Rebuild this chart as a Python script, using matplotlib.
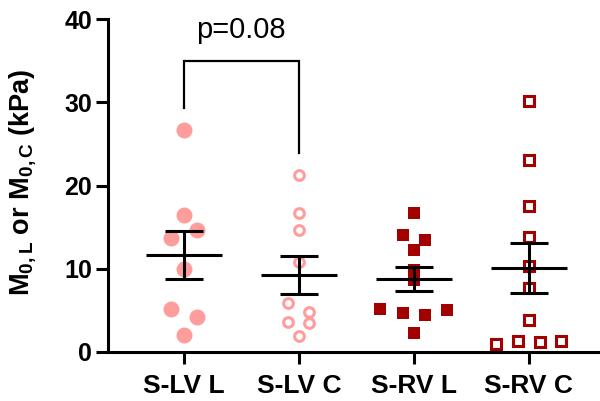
import matplotlib
matplotlib.use('Agg')
import matplotlib.pyplot as plt
import numpy as np

# values (kPa), in data order
groups = ['S-LV L', 'S-LV C', 'S-RV L', 'S-RV C']
slv_l = [26.7, 16.5, 13.7, 14.7, 10.0, 5.2, 4.2, 2.1]
slv_c = [21.3, 16.7, 14.7, 10.8, 5.85, 4.84, 3.57, 3.45, 1.96]
srv_l = [16.7, 14.05, 13.45, 12.2, 9.9, 8.6, 5.17, 4.72, 4.44, 5.05, 2.25]
srv_c = [30.1, 23.1, 17.5, 13.85, 10.3, 7.65, 3.8, 0.96, 1.36, 1.24, 1.36]
yticks = [0, 10, 20, 30, 40]
p_text = 'p=0.08'

data = [slv_l, slv_c, srv_l, srv_c]

pink = '#FF9C9C'
red = '#A30000'
styles = [
    dict(marker='o', ms=11.5, mfc=pink, mec=pink, mew=0),
    dict(marker='o', ms=7.0, mfc='white', mec=pink, mew=2.2),
    dict(marker='s', ms=9.2, mfc=red, mec=red, mew=0),
    dict(marker='s', ms=7.0, mfc='white', mec=red, mew=2.2),
]
steps = [0.226, 0.183, 0.194, 0.19]

plt.rcParams['font.family'] = ['Liberation Sans', 'DejaVu Sans']
plt.rcParams['mathtext.fontset'] = 'custom'
plt.rcParams['mathtext.rm'] = 'Liberation Sans:bold'
plt.rcParams['mathtext.bf'] = 'Liberation Sans:bold'
plt.rcParams['mathtext.it'] = 'Liberation Sans:bold'


def spread(vals, step, gap=1.2):
    # group points that sit close together in value, spread them side by side
    vals = np.asarray(vals)
    order = np.argsort(vals, kind='stable')
    offs = np.zeros(len(vals))
    i = 0
    while i < len(order):
        start = vals[order[i]]
        members = [order[i]]
        j = i + 1
        while j < len(order) and vals[order[j]] - start < gap:
            members.append(order[j])
            j += 1
        members.sort()
        n = len(members)
        for k, m in enumerate(members):
            offs[m] = (k - (n - 1) / 2) * step
        i = j
    return offs


fig = plt.figure(figsize=(6, 4.01), dpi=100)
ax = fig.add_axes([0.18, 0.1222, 0.82, 0.8304])

for i, vals in enumerate(data):
    offs = spread(vals, steps[i])
    ax.plot(i + offs, vals, ls='none', zorder=2, **styles[i])
    m = np.mean(vals)
    sem = np.std(vals, ddof=1) / np.sqrt(len(vals))
    ax.plot([i - 0.33, i + 0.33], [m, m], color='black', lw=2.2, zorder=3,
            solid_capstyle='butt')
    ax.plot([i, i], [m - sem, m + sem], color='black', lw=2.2, zorder=3,
            solid_capstyle='butt')
    for y in (m - sem, m + sem):
        ax.plot([i - 0.165, i + 0.165], [y, y], color='black', lw=2.2,
                zorder=3, solid_capstyle='butt')

# significance bracket between the two LV groups
ax.plot([0, 0, 1, 1], [29.3, 34.9, 34.9, 23.9], color='black', lw=1.6,
        solid_joinstyle='miter')
ax.text(0.5, 38.7, p_text, ha='center', va='center', fontsize=21)

ax.set_xlim(-0.66, 3.62)
ax.set_ylim(0, 40)
ax.set_xticks(range(len(groups)))
ax.set_xticklabels(groups, fontsize=19, fontweight='bold')
ax.set_yticks(yticks)
ax.set_yticklabels([str(t) for t in yticks], fontsize=18, fontweight='bold')
ax.tick_params(width=2.2, length=8.5)
ax.tick_params(axis='x', pad=7)
ax.tick_params(axis='y', pad=3)

for s in ['top', 'right']:
    ax.spines[s].set_visible(False)
for s in ['left', 'bottom']:
    ax.spines[s].set_linewidth(2.2)
ax.spines['left'].set_capstyle('projecting')

ax.set_ylabel(r'M$_{0,L}$ or M$_{0,C}$ (kPa)', fontsize=19.5, fontweight='bold')
ax.yaxis.set_label_coords(-0.142, 0.509)

plt.savefig('out.png', dpi=100)
